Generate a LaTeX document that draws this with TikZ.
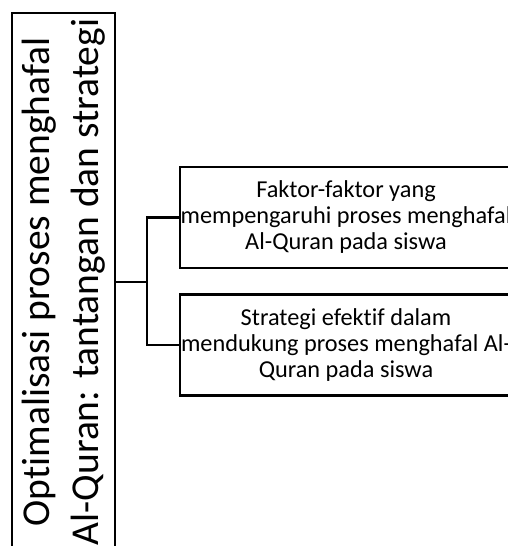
\documentclass[tikz,border=0pt]{standalone}
\usepackage{fontspec}
\setmainfont{Carlito}[Ligatures={NoCommon}]
\usepackage{tikz}
\usetikzlibrary{positioning}
\tikzstyle{topic}=[draw,line width=2.5pt,rotate=90,minimum width=538pt,minimum height=103pt,inner sep=0pt,align=center,font=\fontsize{39.5}{49}\selectfont]
\tikzstyle{sub}=[draw,line width=2.5pt,minimum width=332pt,minimum height=101pt,inner sep=0pt,align=center,font=\fontsize{24.3}{26}\selectfont]
\tikzstyle{link}=[line width=2.5pt]
\begin{document}
\begin{tikzpicture}[x=1pt,y=1pt]
	\path[use as bounding box,clip] (0,0) rectangle (508,-546);
	\node[topic] (root) at (63.5,-282) {Optimalisasi proses menghafal\\Al-Quran: tantangan dan strategi};
	\node[sub] (faktor)   at (346,-217.5) {Faktor-faktor yang\\mempengaruhi proses menghafal\\Al-Quran pada siswa};
	\node[sub] (strategi) at (346,-345)   {Strategi efektif dalam\\mendukung proses menghafal Al-\\Quran pada siswa};
	\coordinate (hub) at (147,-282);
	\draw[link] (root.south) -- (hub);
	\draw[link] (hub) |- (faktor.west);
	\draw[link] (hub) |- (strategi.west);
\end{tikzpicture}
\end{document}
